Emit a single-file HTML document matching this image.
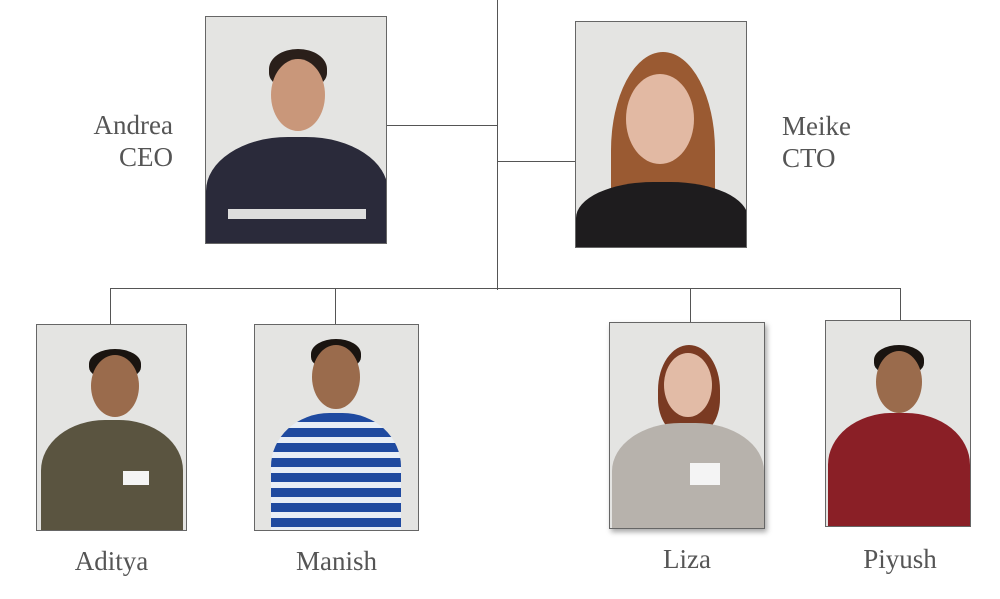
<!DOCTYPE html>
<html><head><meta charset="utf-8"><style>
html,body{margin:0;padding:0;background:#fff;}
body{width:1000px;height:599px;position:relative;overflow:hidden;font-family:"Liberation Serif",serif;color:#555;}
.l{position:absolute;background:#555;}
.p{position:absolute;border:1px solid #666;background:#e4e4e2;overflow:hidden;box-sizing:border-box;}
.p .bd{position:absolute;border-radius:45% 45% 0 0;}
.p .hd{position:absolute;border-radius:50%;background:#c9977a;}
.p .hr{position:absolute;border-radius:50% 50% 40% 40%;}
.t{position:absolute;font-size:27px;line-height:32px;}
</style></head><body>
<div class="l" style="left:497px;top:0;width:1px;height:290px"></div>
<div class="l" style="left:386px;top:125px;width:112px;height:1px"></div>
<div class="l" style="left:498px;top:161px;width:77px;height:1px"></div>
<div class="l" style="left:110px;top:288px;width:791px;height:1px"></div>
<div class="l" style="left:110px;top:288px;width:1px;height:36px"></div>
<div class="l" style="left:335px;top:288px;width:1px;height:36px"></div>
<div class="l" style="left:690px;top:288px;width:1px;height:34px"></div>
<div class="l" style="left:900px;top:288px;width:1px;height:32px"></div>

<!-- Andrea -->
<div class="p" style="left:205px;top:16px;width:182px;height:228px">
<div class="bd" style="left:0;top:120px;width:182px;height:120px;background:#2a2a3a"></div>
<div class="hr" style="left:63px;top:32px;width:58px;height:40px;background:#2a1f1a"></div>
<div class="hd" style="left:65px;top:42px;width:54px;height:72px"></div>
<div style="position:absolute;left:22px;top:192px;width:138px;height:10px;background:#ddd"></div>
</div>
<!-- Meike -->
<div class="p" style="left:575px;top:21px;width:172px;height:227px">
<div class="hr" style="left:35px;top:30px;width:104px;height:197px;background:#9a5a32;border-radius:50% 50% 10% 10%"></div>
<div class="bd" style="left:0;top:160px;width:172px;height:80px;background:#1e1c1e"></div>
<div class="hd" style="left:50px;top:52px;width:68px;height:90px;background:#e2b9a3"></div>
</div>
<!-- Aditya -->
<div class="p" style="left:36px;top:324px;width:151px;height:207px">
<div class="bd" style="left:4px;top:95px;width:142px;height:112px;background:#5a5440"></div>
<div class="hr" style="left:52px;top:24px;width:52px;height:30px;background:#1a1410"></div>
<div class="hd" style="left:54px;top:30px;width:48px;height:62px;background:#9a6b4c"></div>
<div style="position:absolute;left:86px;top:146px;width:26px;height:14px;background:#f4f4f4"></div>
</div>
<!-- Manish -->
<div class="p" style="left:254px;top:324px;width:165px;height:207px">
<div class="bd" style="left:16px;top:88px;width:130px;height:119px;background:repeating-linear-gradient(#1f4aa0 0 9px,#e8eef6 9px 15px)"></div>
<div class="hr" style="left:56px;top:14px;width:50px;height:30px;background:#1a1410"></div>
<div class="hd" style="left:57px;top:20px;width:48px;height:64px;background:#9a6b4c"></div>
</div>
<!-- Liza -->
<div class="p" style="left:609px;top:322px;width:156px;height:207px;box-shadow:2px 3px 5px rgba(0,0,0,.35)">
<div class="hr" style="left:48px;top:22px;width:62px;height:90px;background:#7a3a22"></div>
<div class="bd" style="left:2px;top:100px;width:152px;height:107px;background:#b7b2ac"></div>
<div class="hd" style="left:54px;top:30px;width:48px;height:64px;background:#e2bba6"></div>
<div style="position:absolute;left:80px;top:140px;width:30px;height:22px;background:#f4f4f4"></div>
</div>
<!-- Piyush -->
<div class="p" style="left:825px;top:320px;width:146px;height:207px">
<div class="bd" style="left:2px;top:92px;width:142px;height:115px;background:#8a1f26"></div>
<div class="hr" style="left:48px;top:24px;width:50px;height:30px;background:#1a1410"></div>
<div class="hd" style="left:50px;top:30px;width:46px;height:62px;background:#9a6b4c"></div>
</div>

<div class="t" style="left:60px;top:109px;width:113px;text-align:right">Andrea<br>CEO</div>
<div class="t" style="left:782px;top:110px">Meike<br>CTO</div>
<div class="t" style="left:36px;top:545px;width:151px;text-align:center">Aditya</div>
<div class="t" style="left:254px;top:545px;width:165px;text-align:center">Manish</div>
<div class="t" style="left:609px;top:543px;width:156px;text-align:center">Liza</div>
<div class="t" style="left:825px;top:543px;width:150px;text-align:center">Piyush</div>
</body></html>
